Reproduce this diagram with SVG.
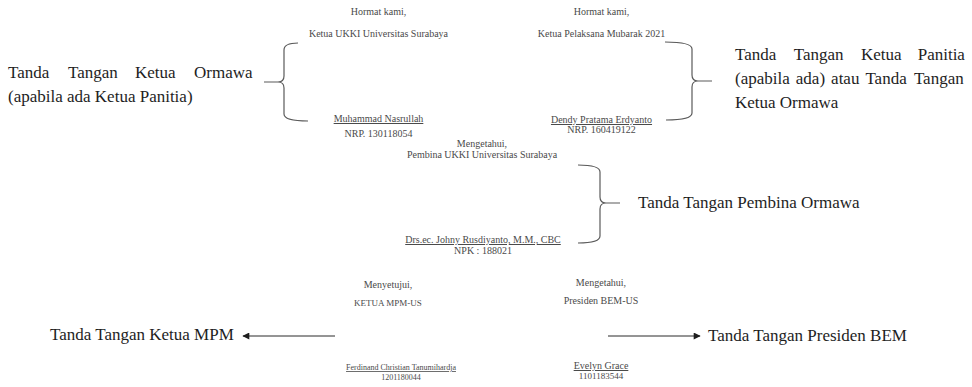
<svg xmlns="http://www.w3.org/2000/svg" width="972" height="387" viewBox="0 0 972 387">
<defs>
<style>
.sm{font-family:"Liberation Serif","Times New Roman",serif;font-size:10px;fill:#4a4a4a;text-anchor:middle}
.xs{font-size:8px}
.u{text-decoration:underline}
.lg{font-family:"Liberation Serif","Times New Roman",serif;font-size:17px;fill:#1e1e1e}
.br{fill:none;stroke:#5a5a5a;stroke-width:1.2}
.ar{fill:none;stroke:#2a2a2a;stroke-width:1}
</style>
<marker id="ah" viewBox="0 0 10 10" refX="9" refY="5" markerWidth="8" markerHeight="7" markerUnits="userSpaceOnUse" orient="auto">
<path d="M0,0 L10,5 L0,10 z" fill="#1e1e1e"/>
</marker>
</defs>
<rect width="972" height="387" fill="#ffffff"/>

<g id="sig-ketua-ukki">
<text class="sm" x="378.5" y="15">Hormat kami,</text>
<text class="sm" x="378.5" y="37">Ketua UKKI Universitas Surabaya</text>
<text class="sm u" x="378.5" y="122">Muhammad Nasrullah</text>
<text class="sm" x="378.5" y="137">NRP. 130118054</text>
</g>

<g id="sig-ketua-pelaksana">
<text class="sm" x="601.5" y="15">Hormat kami,</text>
<text class="sm" x="601.5" y="37">Ketua Pelaksana Mubarak 2021</text>
<text class="sm u" x="601.5" y="123">Dendy Pratama Erdyanto</text>
<text class="sm" x="601.5" y="133">NRP. 160419122</text>
</g>

<g id="sig-pembina">
<text class="sm" x="482" y="147">Mengetahui,</text>
<text class="sm" x="482" y="158">Pembina UKKI Universitas Surabaya</text>
<text class="sm u" x="483" y="243">Drs.ec. Johny Rusdiyanto, M.M., CBC</text>
<text class="sm" x="483" y="254">NPK : 188021</text>
</g>

<g id="sig-mpm">
<text class="sm" x="388" y="288">Menyetujui,</text>
<text class="sm xs" x="388" y="306" style="font-size:9px">KETUA MPM-US</text>
<text class="sm xs u" x="401" y="370">Ferdinand Christian Tanumihardja</text>
<text class="sm xs" x="401" y="380">1201180044</text>
</g>

<g id="sig-bem">
<text class="sm" x="601" y="286">Mengetahui,</text>
<text class="sm" x="601" y="304">Presiden BEM-US</text>
<text class="sm u" x="601" y="369">Evelyn Grace</text>
<text class="sm" x="601" y="379" style="font-size:9px">1101183544</text>
</g>

<g id="label-ormawa">
<text class="lg" y="78"><tspan x="8">Tanda</tspan><tspan x="68">Tangan</tspan><tspan x="135">Ketua</tspan><tspan x="194">Ormawa</tspan></text>
<text class="lg" x="8" y="102">(apabila ada Ketua Panitia)</text>
</g>

<g id="label-panitia">
<text class="lg" y="60"><tspan x="735">Tanda</tspan><tspan x="793.7">Tangan</tspan><tspan x="860.9">Ketua</tspan><tspan x="917.7">Panitia</tspan></text>
<text class="lg" y="84"><tspan x="735">(apabila</tspan><tspan x="795.8">ada)</tspan><tspan x="831.1">atau</tspan><tspan x="865.4">Tanda</tspan><tspan x="913.9">Tangan</tspan></text>
<text class="lg" x="735" y="108">Ketua Ormawa</text>
</g>

<g id="label-pembina">
<text class="lg" x="638" y="208">Tanda Tangan Pembina Ormawa</text>
</g>

<g id="label-mpm">
<text class="lg" x="50" y="340">Tanda Tangan Ketua MPM</text>
</g>

<g id="label-bem">
<text class="lg" x="708" y="341">Tanda Tangan Presiden BEM</text>
</g>

<g id="connectors">
<path class="br" d="M298,43 Q284,43 284,50 L284,76 Q284,82 278,82 L264,82 M278,82 Q284,82 284,88 L284,114 Q284,121 308,121"/>
<path class="br" d="M665,42 Q692,42 692,49 L692,75 Q692,81 698,81 L712,81 M698,81 Q692,81 692,87 L692,113 Q692,120 666,120"/>
<path class="br" d="M578,165 Q600,165 600,172 L600,197 Q600,203 606,203 L620,203 M606,203 Q600,203 600,209 L600,236 Q600,243 578,243"/>
<line class="ar" x1="335" y1="336" x2="243" y2="336" marker-end="url(#ah)"/>
<line class="ar" x1="608" y1="336" x2="700" y2="336" marker-end="url(#ah)"/>
</g>
</svg>
